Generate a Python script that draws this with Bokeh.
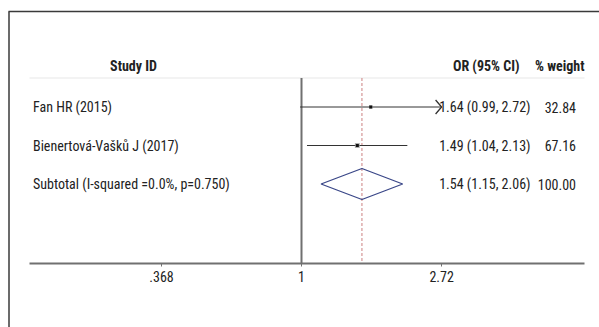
import math
from bokeh.plotting import figure
from bokeh.models import Range1d, LogAxis, FixedTicker, ColumnDataSource
from bokeh.core.properties import value
from bokeh.embed import file_html
from bokeh.resources import INLINE

# ---------------- data ----------------
studies = ["Fan HR (2015)", "Bienertová-Vašků J (2017)"]
or_est = [1.64, 1.49]
ci_lo = [0.99, 1.04]
ci_hi = [2.72, 2.13]
weights = [32.84, 67.16]
arrow_right = [True, False]

sub_label = "Subtotal (I-squared =0.0%, p=0.750)"
sub_or = 1.54
sub_lo = 1.15
sub_hi = 2.06
sub_weight = 100.00

tick_values = [0.368, 1.0, 2.72]
tick_labels = [".368", "1", "2.72"]

header_left = "Study ID"
header_or = "OR (95% CI)"
header_w = "% weight"

# ---------------- layout helpers ----------------
W, H = 599, 327
X0, S = 301.0, 140.0          # px of OR=1, px per ln unit
ROW_PX, ROW1_PY = 38.5, 106.5  # row spacing, y px of row 1


def px(p):
    return math.exp((p - X0) / S)


def row(py):
    return 1 + (py - ROW1_PY) / ROW_PX


FONT_NAME = "Roboto Condensed"
FONT = value(FONT_NAME)
FS = "14px"
TXT = "#222222"

p = figure(width=W, height=H, x_axis_type="log",
           x_range=Range1d(px(0), px(W)),
           y_range=Range1d(row(H), row(0)),
           x_axis_location=None, y_axis_location=None,
           toolbar_location=None, output_backend="svg",
           min_border=0, outline_line_color=None)
p.xgrid.visible = False
p.ygrid.visible = False
p.background_fill_color = "white"
p.border_fill_color = "white"

# outer frame lines (decoration)
p.segment(x0=[px(8), px(8.5)], y0=[row(11), row(11)], x1=[px(W + 2), px(8.5)], y1=[row(11), row(H + 2)],
          line_color="#3a3a3a", line_width=1.5)

rows = [i + 1 for i in range(len(studies))]
sub_row = len(studies) + 1
head_row = row(65)
sep_row = row(77.5)
axis_row = row(262.5)

# header separator
p.segment(x0=[px(29)], y0=[sep_row], x1=[px(584)], y1=[sep_row], line_color="#efefef", line_width=1.5)

# null line and overall line
p.segment(x0=[1.0], y0=[sep_row], x1=[1.0], y1=[axis_row], line_color="#707070", line_width=2)
p.segment(x0=[sub_or], y0=[sep_row], x1=[sub_or], y1=[axis_row], line_color="#cc8080",
          line_width=1, line_dash="3 2")

# CIs
src = ColumnDataSource(dict(y=rows, est=or_est, lo=ci_lo, hi=ci_hi, w=weights,
                            bs=[math.sqrt(w) * 0.6 for w in weights]))
p.segment(x0="lo", y0="y", x1="hi", y1="y", source=src, line_color="#333333", line_width=1)
ah_back, ah_half = 6.0, 7.0
for i in range(len(studies)):
    if arrow_right[i]:
        hx = ci_hi[i]
        xb = hx * math.exp(-ah_back / S)
        p.line(x=[xb, hx, xb], y=[rows[i] - ah_half / ROW_PX, rows[i], rows[i] + ah_half / ROW_PX],
               line_color="#333333", line_width=1.3)
p.scatter(x="est", y="y", size="bs", marker="square", source=src,
          fill_color="#a0a0a0", line_color=None, fill_alpha=0.8)
p.scatter(x="est", y="y", size=3, marker="square", source=src,
          fill_color="#111111", line_color=None)

# diamond
dh = 15.5 / ROW_PX
p.patch(x=[sub_lo, sub_or, sub_hi, sub_or], y=[sub_row, sub_row - dh, sub_row, sub_row + dh],
        fill_color=None, line_color="#3a4788", line_width=1.3)

# texts
p.text(x=[px(133)], y=[head_row], text=[header_left], text_font=FONT, text_font_size=FS,
       text_font_style="bold", text_align="center", text_baseline="middle", text_color=TXT)
p.text(x=[px(519)], y=[head_row], text=[header_or], text_font=FONT, text_font_size=FS,
       text_font_style="bold", text_align="right", text_baseline="middle", text_color=TXT)
p.text(x=[px(584)], y=[head_row], text=[header_w], text_font=FONT, text_font_size=FS,
       text_font_style="bold", text_align="right", text_baseline="middle", text_color=TXT)

labels = studies + [sub_label]
ys = rows + [sub_row]
ors = [f"{e:.2f} ({l:.2f}, {h:.2f})" for e, l, h in zip(or_est + [sub_or], ci_lo + [sub_lo], ci_hi + [sub_hi])]
ws = [f"{w:.2f}" for w in weights + [sub_weight]]
p.text(x=[px(32.5)] * len(labels), y=ys, text=labels, text_font=FONT, text_font_size=FS,
       text_align="left", text_baseline="middle", text_color=TXT)
p.text(x=[px(530)] * len(ors), y=ys, text=ors, text_font=FONT, text_font_size=FS,
       text_align="right", text_baseline="middle", text_color=TXT)
p.text(x=[px(575.5)] * len(ws), y=ys, text=ws, text_font=FONT, text_font_size=FS,
       text_align="right", text_baseline="middle", text_color=TXT)

# axis
ax = LogAxis(fixed_location=axis_row, bounds=(px(29), px(584)))
ax.ticker = FixedTicker(ticks=tick_values)
ax.major_label_overrides = {v: l for v, l in zip(tick_values, tick_labels)}
ax.minor_tick_line_color = None
ax.major_tick_in = 0
ax.major_tick_out = 3
ax.major_tick_line_color = "#707070"
ax.axis_line_color = "#707070"
ax.axis_line_width = 2
ax.major_label_text_font = FONT_NAME
ax.major_label_text_font_size = FS
ax.major_label_text_color = TXT
ax.major_label_standoff = 5
p.add_layout(ax, "below")

open("out.html", "w").write(file_html(p, INLINE))
